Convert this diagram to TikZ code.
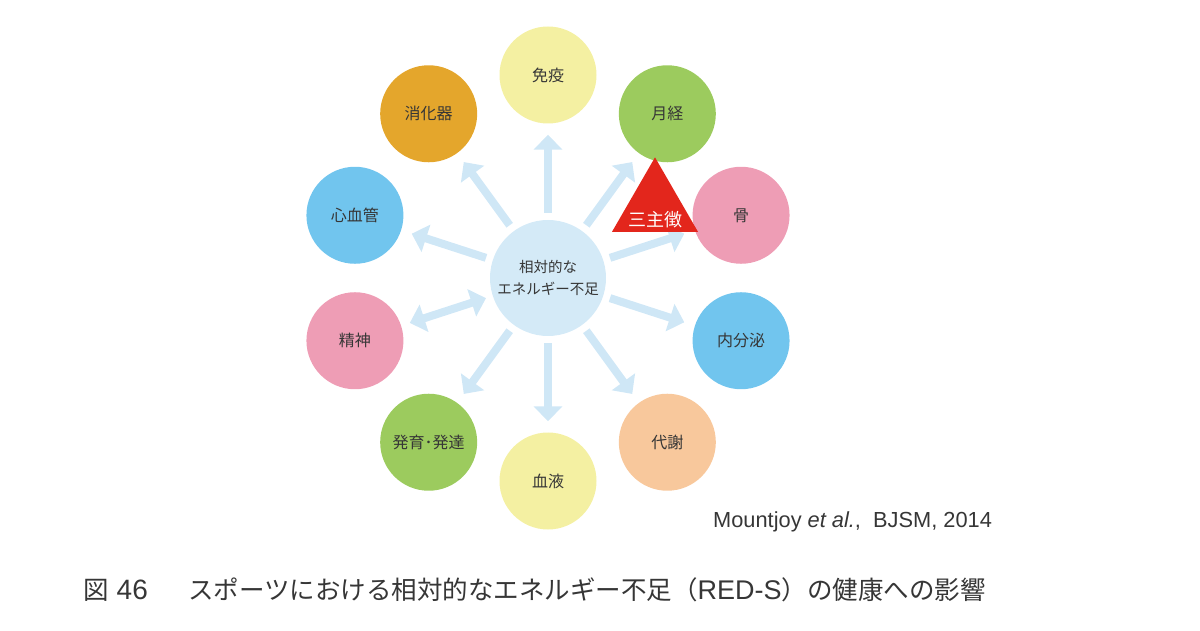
\documentclass[tikz,border=0pt]{standalone}
\usepackage{fontspec}
\setmainfont{Noto Sans CJK JP}
\newfontfamily\citefont{Liberation Sans}
\usepackage{xcolor}
\usetikzlibrary{arrows.meta,positioning,shapes.geometric}

\definecolor{hubblue}{HTML}{D4EAF7}
\definecolor{arrowblue}{HTML}{CFE7F6}
\definecolor{paleyellow}{HTML}{F4F0A2}
\definecolor{leafgreen}{HTML}{9CCB5E}
\definecolor{rosepink}{HTML}{EE9DB5}
\definecolor{skyblue}{HTML}{71C5EE}
\definecolor{peach}{HTML}{F8C89C}
\definecolor{amber}{HTML}{E4A62C}
\definecolor{alertred}{HTML}{E3261C}
\definecolor{inkgray}{HTML}{363636}

\begin{document}
\begin{tikzpicture}[
  x=1pt, y=1pt,
  hub/.style={circle, fill=hubblue, minimum size=116pt, inner sep=0pt, align=center, text=inkgray, font=\fontsize{14.5}{22}\selectfont},
  bubble/.style={circle, minimum size=97pt, inner sep=0pt, text=inkgray, font=\fontsize{16}{19}\selectfont},
  arr/.style={-{Triangle[length=15pt, width=28pt]}, line width=8pt, draw=arrowblue, shorten <=7pt, shorten >=11pt},
  darr/.style={{Triangle[length=15pt, width=28pt]}-{Triangle[length=15pt, width=28pt]}, line width=8pt, draw=arrowblue, shorten <=7pt, shorten >=9pt},
  caption/.style={inner sep=0pt, anchor=base west, text=inkgray, font=\fontsize{25.5}{30}\selectfont}
]
  \useasboundingbox (0,0) rectangle (1200,630);

  % hub and the ten effects round it
  \node[hub] (hub) at (548,352) {相対的な\\エネルギー不足};
  \node[bubble, fill=paleyellow] (meneki) at ([shift={(90:203)}]hub) {免疫};
  \node[bubble, fill=leafgreen] (gekkei) at ([shift={(54:203)}]hub) {月経};
  \node[bubble, fill=rosepink] (hone) at ([shift={(18:203)}]hub) {骨};
  \node[bubble, fill=skyblue] (naibunpi) at ([shift={(-18:203)}]hub) {内分泌};
  \node[bubble, fill=peach] (taisha) at ([shift={(-54:203)}]hub) {代謝};
  \node[bubble, fill=paleyellow] (ketsueki) at ([shift={(-90:203)}]hub) {血液};
  \node[bubble, fill=leafgreen] (hatsuiku) at ([shift={(-126:203)}]hub) {発育･発達};
  \node[bubble, fill=rosepink] (seishin) at ([shift={(-162:203)}]hub) {精神};
  \node[bubble, fill=skyblue] (shinkekkan) at ([shift={(162:203)}]hub) {心血管};
  \node[bubble, fill=amber] (shokaki) at ([shift={(126:203)}]hub) {消化器};

  \draw[arr] (hub) -- (meneki);
  \draw[arr] (hub) -- (gekkei);
  \draw[arr] (hub) -- (hone);
  \draw[arr] (hub) -- (naibunpi);
  \draw[arr] (hub) -- (taisha);
  \draw[arr] (hub) -- (ketsueki);
  \draw[arr] (hub) -- (hatsuiku);
  \draw[darr] (hub) -- (seishin);
  \draw[arr] (hub) -- (shinkekkan);
  \draw[arr] (hub) -- (shokaki);

  % female athlete triad marker
  \node[regular polygon, regular polygon sides=3, minimum size=99.3pt, inner sep=0pt, fill=alertred] (triad) at (655,423) {};
  \node[text=white, font=\fontsize{18}{20}\selectfont] (triadtext) at ([yshift=-13pt]triad.center) {三主徴};

  % source and caption
  \node[anchor=base west, inner sep=0pt, text=inkgray, font=\citefont\fontsize{21.8}{24}\selectfont] (source) at (713,103) {Mountjoy \textit{et al.},\ \ BJSM, 2014};
  \node[caption] (figno) at (83,31) {図\hspace{8pt}{\citefont\fontsize{28}{30}\selectfont 46}};
  \node[caption] (figtitle) at (188,31) {スポーツにおける相対的なエネルギー不足（{\citefont\fontsize{27}{30}\selectfont RED-S}）の健康への影響};
\end{tikzpicture}
\end{document}
